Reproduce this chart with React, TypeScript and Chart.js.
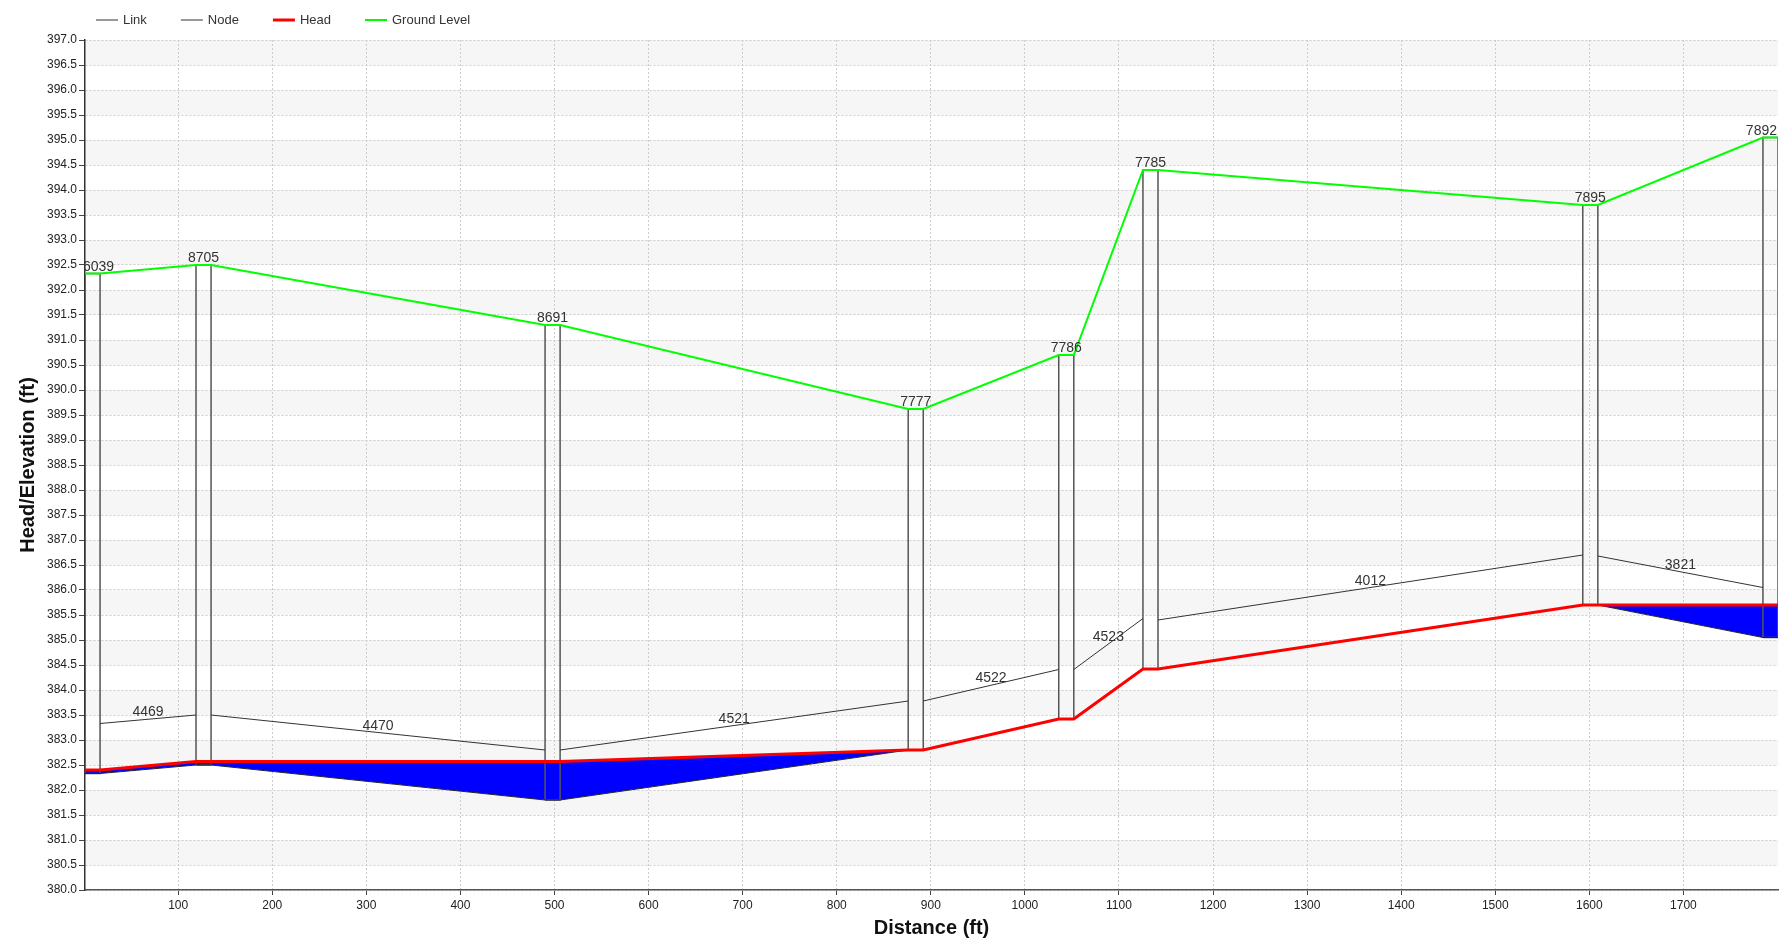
import { useEffect, useRef } from "react";
import { Chart, registerables } from "chart.js";

Chart.register(...registerables);

// ---- data ----
const nodeIds = ["6039", "8705", "8691", "7777", "7786", "7785", "7895", "7892"];
const nodeLeft = [1, 119, 490, 876, 1036, 1125.5, 1593, 1784.5]; // ft
const nodeWidth = 16; // ft
const nodeRim = [392.33, 392.5, 391.3, 389.62, 390.7, 394.4, 393.7, 395.05];
const nodeInvert = [382.33, 382.5, 381.8, 382.8, 383.42, 384.42, 385.7, 385.05];
const nodeHead = [382.4, 382.57, 382.57, 382.8, 383.42, 384.42, 385.7, 385.7];

const linkIds = ["4469", "4470", "4521", "4522", "4523", "4012", "3821"];
const linkCrownUp = [383.33, 383.5, 382.8, 383.78, 384.41, 385.4, 386.68];
const linkCrownDown = [383.5, 382.8, 383.78, 384.41, 385.43, 386.7, 386.05];

const xMin = 1;
const xMax = 1800.5;
const xTickValues = [100, 200, 300, 400, 500, 600, 700, 800, 900, 1000, 1100, 1200, 1300, 1400, 1500, 1600, 1700];
const yMin = 380;
const yMax = 397;
const yStep = 0.5;

const legendItems = ["Link", "Node", "Head", "Ground Level"];

const FONT = '"Liberation Sans", Arial, sans-serif';

const nodeRight = nodeLeft.map((l) => l + nodeWidth);

const groundData = nodeIds.flatMap((_, i) => [
  { x: nodeLeft[i], y: nodeRim[i] },
  { x: nodeRight[i], y: nodeRim[i] },
]);
const headData = nodeIds.flatMap((_, i) => [
  { x: nodeLeft[i], y: nodeHead[i] },
  { x: nodeRight[i], y: nodeHead[i] },
]);
const invertData = nodeIds.flatMap((_, i) => [
  { x: nodeLeft[i], y: nodeInvert[i] },
  { x: nodeRight[i], y: nodeInvert[i] },
]);
const crownData = linkIds.flatMap((_, i) => [
  { x: nodeRight[i], y: linkCrownUp[i] },
  { x: nodeLeft[i + 1], y: linkCrownDown[i] },
  { x: nodeLeft[i + 1], y: null as any },
]);
const boxData = nodeIds.flatMap((_, i) => [
  { x: nodeLeft[i], y: nodeInvert[i] },
  { x: nodeLeft[i], y: nodeRim[i] },
  { x: nodeRight[i], y: nodeRim[i] },
  { x: nodeRight[i], y: nodeInvert[i] },
  { x: nodeLeft[i], y: nodeInvert[i] },
  { x: nodeLeft[i], y: null as any },
]);

const bandsPlugin = {
  id: "bands",
  beforeDraw(chart: any) {
    const { ctx, chartArea, scales } = chart;
    const y = scales.y;
    ctx.save();
    let k = 0;
    for (let v = yMax; v > yMin + 1e-9; v -= yStep, k++) {
      if (k % 2 === 0) {
        const top = y.getPixelForValue(v);
        const bot = y.getPixelForValue(v - yStep);
        ctx.fillStyle = "#f6f6f6";
        ctx.fillRect(chartArea.left, top, chartArea.right - chartArea.left, bot - top);
      }
    }
    ctx.restore();
  },
};

const labelsPlugin = {
  id: "profileLabels",
  afterDatasetsDraw(chart: any) {
    const { ctx, chartArea, scales } = chart;
    const x = scales.x;
    const y = scales.y;
    ctx.save();
    ctx.beginPath();
    ctx.rect(chartArea.left, chartArea.top - 30, chartArea.right - chartArea.left, chartArea.bottom - chartArea.top + 30);
    ctx.clip();
    ctx.font = `14px ${FONT}`;
    ctx.fillStyle = "#333";
    ctx.textBaseline = "alphabetic";
    ctx.textAlign = "left";
    nodeIds.forEach((id, i) => {
      const cx = x.getPixelForValue(nodeLeft[i] + nodeWidth / 2);
      const w = ctx.measureText(id).width;
      let x0 = cx - w / 2;
      x0 = Math.max(x0, chartArea.left - 2);
      x0 = Math.min(x0, chartArea.right - w - 1);
      ctx.fillText(id, x0, y.getPixelForValue(nodeRim[i]) - 3);
    });
    ctx.textAlign = "center";
    linkIds.forEach((id, i) => {
      const mx = (nodeRight[i] + nodeLeft[i + 1]) / 2;
      const my = (linkCrownUp[i] + linkCrownDown[i]) / 2;
      ctx.fillText(id, x.getPixelForValue(mx), y.getPixelForValue(my) - 3);
    });
    ctx.restore();
  },
};

const legendPlugin = {
  id: "customLegend",
  afterDraw(chart: any) {
    const { ctx } = chart;
    const styles = [
      { color: "#333", width: 1 },
      { color: "#333", width: 1 },
      { color: "#ff0000", width: 3 },
      { color: "#00ff00", width: 2 },
    ];
    ctx.save();
    ctx.font = `13px ${FONT}`;
    ctx.textBaseline = "middle";
    ctx.textAlign = "left";
    let xx = 96;
    const cy = 20;
    legendItems.forEach((t, i) => {
      ctx.strokeStyle = styles[i].color;
      ctx.lineWidth = styles[i].width;
      ctx.beginPath();
      ctx.moveTo(xx, cy);
      ctx.lineTo(xx + 22, cy);
      ctx.stroke();
      ctx.fillStyle = "#333";
      ctx.fillText(t, xx + 27, cy);
      xx = xx + 27 + ctx.measureText(t).width + 34;
    });
    ctx.restore();
  },
};

export default function App() {
  const ref = useRef<HTMLCanvasElement | null>(null);

  useEffect(() => {
    if (!ref.current) return;
    const chart = new Chart(ref.current, {
      type: "line",
      data: {
        datasets: [
          {
            label: "Ground Level",
            data: groundData,
            borderColor: "#00ff00",
            borderWidth: 2,
            pointRadius: 0,
            fill: false,
            order: 0,
          },
          {
            label: "Head",
            data: headData,
            borderColor: "#ff0000",
            borderWidth: 3,
            pointRadius: 0,
            fill: { target: 2, above: "#0000ff", below: "rgba(0,0,0,0)" },
            order: 1,
          },
          {
            label: "Invert",
            data: invertData,
            borderColor: "#222",
            borderWidth: 1,
            pointRadius: 0,
            fill: false,
            order: 2,
          },
          {
            label: "Link",
            data: crownData,
            borderColor: "#333",
            borderWidth: 1,
            pointRadius: 0,
            fill: false,
            spanGaps: false,
            order: 3,
          },
          {
            label: "Node",
            data: boxData,
            borderColor: "#555",
            borderWidth: 1.5,
            pointRadius: 0,
            fill: false,
            spanGaps: false,
            order: 4,
          },
        ] as any,
      },
      options: {
        animation: false,
        responsive: false,
        devicePixelRatio: 1,
        layout: { padding: { top: 40, right: 1, left: 0, bottom: 0 } },
        plugins: {
          legend: { display: false },
          tooltip: { enabled: false },
          filler: { drawTime: "beforeDatasetsDraw" } as any,
        },
        scales: {
          x: {
            type: "linear",
            min: xMin,
            max: xMax,
            afterBuildTicks(scale: any) {
              scale.ticks = xTickValues.map((v) => ({ value: v }));
            },
            afterFit(scale: any) {
              scale.height = 51;
            },
            ticks: {
              autoSkip: false,
              maxRotation: 0,
              padding: 3,
              color: "#222",
              font: { family: FONT, size: 12 },
              callback: (v: any) => String(Math.round(Number(v))),
            },
            grid: {
              color: "#cccccc",
              lineWidth: 1,
              tickLength: 5,
              tickColor: "#444",
              tickWidth: 1,
            } as any,
            border: { display: true, color: "#555", width: 1.5, dash: [2, 2] } as any,
            title: {
              display: true,
              text: "Distance (ft)",
              color: "#111",
              font: { family: FONT, size: 20, weight: "bold" },
              padding: { top: 0, bottom: 1 },
            },
          },
          y: {
            type: "linear",
            min: yMin,
            max: yMax,
            afterFit(scale: any) {
              scale.width = 85;
            },
            ticks: {
              stepSize: yStep,
              autoSkip: false,
              padding: 2,
              color: "#222",
              font: { family: FONT, size: 12 },
              callback: (v: any) => Number(v).toFixed(1),
            },
            grid: {
              color: "#cccccc",
              lineWidth: 1,
              tickLength: 6,
              tickColor: "#444",
              tickWidth: 1,
            } as any,
            border: { display: true, color: "#333", width: 1.5, dash: [2, 2] } as any,
            title: {
              display: true,
              text: "Head/Elevation (ft)",
              color: "#111",
              font: { family: FONT, size: 20, weight: "bold" },
              padding: { top: 16.5, bottom: 0 },
            },
          },
        },
      },
      plugins: [bandsPlugin, labelsPlugin, legendPlugin],
    });
    return () => chart.destroy();
  }, []);

  return (
    <canvas
      ref={ref}
      width={1779}
      height={941}
      style={{ position: "absolute", left: 0, top: 0, display: "block", width: 1779, height: 941 }}
    />
  );
}
